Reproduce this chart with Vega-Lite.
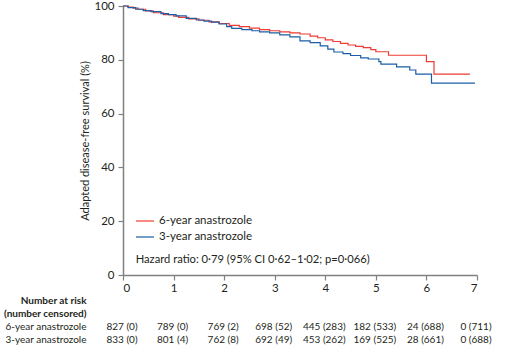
{
  "$schema": "https://vega.github.io/schema/vega-lite/v6.json",
  "padding": {"left": 3, "top": 0, "right": 0, "bottom": 0},
  "background": "white",
  "spacing": 0,
  "config": {
    "view": {"stroke": null},
    "font": "Lato",
    "text": {"font": "Lato"}
  },
  "datasets": {
    "km": [
      {"arm": "6-year anastrozole", "t": 0, "s": 100},
      {"arm": "6-year anastrozole", "t": 0.1, "s": 99.6},
      {"arm": "6-year anastrozole", "t": 0.2, "s": 99.2},
      {"arm": "6-year anastrozole", "t": 0.3, "s": 98.8},
      {"arm": "6-year anastrozole", "t": 0.45, "s": 98.2},
      {"arm": "6-year anastrozole", "t": 0.6, "s": 97.5},
      {"arm": "6-year anastrozole", "t": 0.8, "s": 96.8},
      {"arm": "6-year anastrozole", "t": 1.0, "s": 96.2},
      {"arm": "6-year anastrozole", "t": 1.1, "s": 95.8},
      {"arm": "6-year anastrozole", "t": 1.3, "s": 95.2},
      {"arm": "6-year anastrozole", "t": 1.5, "s": 94.7},
      {"arm": "6-year anastrozole", "t": 1.7, "s": 94.1},
      {"arm": "6-year anastrozole", "t": 1.9, "s": 93.5},
      {"arm": "6-year anastrozole", "t": 2.1, "s": 92.8},
      {"arm": "6-year anastrozole", "t": 2.3, "s": 92.3},
      {"arm": "6-year anastrozole", "t": 2.5, "s": 91.8},
      {"arm": "6-year anastrozole", "t": 2.7, "s": 91.2},
      {"arm": "6-year anastrozole", "t": 2.9, "s": 90.8},
      {"arm": "6-year anastrozole", "t": 3.1, "s": 90.4},
      {"arm": "6-year anastrozole", "t": 3.3, "s": 90.0},
      {"arm": "6-year anastrozole", "t": 3.5, "s": 89.6},
      {"arm": "6-year anastrozole", "t": 3.7, "s": 88.8},
      {"arm": "6-year anastrozole", "t": 3.85, "s": 88.2},
      {"arm": "6-year anastrozole", "t": 4.0, "s": 87.4},
      {"arm": "6-year anastrozole", "t": 4.15, "s": 86.8},
      {"arm": "6-year anastrozole", "t": 4.3, "s": 86.1},
      {"arm": "6-year anastrozole", "t": 4.45, "s": 85.5},
      {"arm": "6-year anastrozole", "t": 4.6, "s": 85.0},
      {"arm": "6-year anastrozole", "t": 4.75, "s": 84.5},
      {"arm": "6-year anastrozole", "t": 4.9, "s": 83.8},
      {"arm": "6-year anastrozole", "t": 5.0, "s": 83.0},
      {"arm": "6-year anastrozole", "t": 5.25, "s": 81.7},
      {"arm": "6-year anastrozole", "t": 6.0, "s": 79.3},
      {"arm": "6-year anastrozole", "t": 6.15, "s": 74.7},
      {"arm": "6-year anastrozole", "t": 6.86, "s": 74.7},
      {"arm": "3-year anastrozole", "t": 0, "s": 100},
      {"arm": "3-year anastrozole", "t": 0.1, "s": 99.4},
      {"arm": "3-year anastrozole", "t": 0.25, "s": 98.8},
      {"arm": "3-year anastrozole", "t": 0.4, "s": 98.3},
      {"arm": "3-year anastrozole", "t": 0.55, "s": 97.9},
      {"arm": "3-year anastrozole", "t": 0.75, "s": 97.2},
      {"arm": "3-year anastrozole", "t": 0.9, "s": 96.8},
      {"arm": "3-year anastrozole", "t": 1.05, "s": 96.3},
      {"arm": "3-year anastrozole", "t": 1.25, "s": 95.4},
      {"arm": "3-year anastrozole", "t": 1.45, "s": 94.8},
      {"arm": "3-year anastrozole", "t": 1.6, "s": 94.4},
      {"arm": "3-year anastrozole", "t": 1.75, "s": 94.0},
      {"arm": "3-year anastrozole", "t": 1.9, "s": 93.3},
      {"arm": "3-year anastrozole", "t": 2.05, "s": 92.3},
      {"arm": "3-year anastrozole", "t": 2.15, "s": 91.7},
      {"arm": "3-year anastrozole", "t": 2.35, "s": 91.2},
      {"arm": "3-year anastrozole", "t": 2.55, "s": 90.8},
      {"arm": "3-year anastrozole", "t": 2.7, "s": 90.4},
      {"arm": "3-year anastrozole", "t": 2.9, "s": 90.0},
      {"arm": "3-year anastrozole", "t": 3.1, "s": 89.3},
      {"arm": "3-year anastrozole", "t": 3.3, "s": 88.5},
      {"arm": "3-year anastrozole", "t": 3.5, "s": 87.0},
      {"arm": "3-year anastrozole", "t": 3.7, "s": 86.4},
      {"arm": "3-year anastrozole", "t": 3.9, "s": 85.2},
      {"arm": "3-year anastrozole", "t": 4.05, "s": 84.0},
      {"arm": "3-year anastrozole", "t": 4.17, "s": 82.9},
      {"arm": "3-year anastrozole", "t": 4.35, "s": 82.3},
      {"arm": "3-year anastrozole", "t": 4.5, "s": 81.6},
      {"arm": "3-year anastrozole", "t": 4.7, "s": 80.7},
      {"arm": "3-year anastrozole", "t": 4.85, "s": 80.3},
      {"arm": "3-year anastrozole", "t": 5.06, "s": 79.3},
      {"arm": "3-year anastrozole", "t": 5.1, "s": 78.4},
      {"arm": "3-year anastrozole", "t": 5.41, "s": 77.4},
      {"arm": "3-year anastrozole", "t": 5.67, "s": 76.2},
      {"arm": "3-year anastrozole", "t": 5.79, "s": 74.7},
      {"arm": "3-year anastrozole", "t": 6.1, "s": 71.3},
      {"arm": "3-year anastrozole", "t": 6.96, "s": 71.3}
    ],
    "risk": [
      {"row": "6-year anastrozole", "t": 0, "label": "827 (0)"},
      {"row": "6-year anastrozole", "t": 1, "label": "789 (0)"},
      {"row": "6-year anastrozole", "t": 2, "label": "769 (2)"},
      {"row": "6-year anastrozole", "t": 3, "label": "698 (52)"},
      {"row": "6-year anastrozole", "t": 4, "label": "445 (283)"},
      {"row": "6-year anastrozole", "t": 5, "label": "182 (533)"},
      {"row": "6-year anastrozole", "t": 6, "label": "24 (688)"},
      {"row": "6-year anastrozole", "t": 7, "label": "0 (711)"},
      {"row": "3-year anastrozole", "t": 0, "label": "833 (0)"},
      {"row": "3-year anastrozole", "t": 1, "label": "801 (4)"},
      {"row": "3-year anastrozole", "t": 2, "label": "762 (8)"},
      {"row": "3-year anastrozole", "t": 3, "label": "692 (49)"},
      {"row": "3-year anastrozole", "t": 4, "label": "453 (262)"},
      {"row": "3-year anastrozole", "t": 5, "label": "169 (525)"},
      {"row": "3-year anastrozole", "t": 6, "label": "28 (661)"},
      {"row": "3-year anastrozole", "t": 7, "label": "0 (688)"}
    ]
  },
  "vconcat": [
    {
      "width": 354,
      "height": 269,
      "layer": [
        {
          "data": {"name": "km"},
          "mark": {"type": "line", "interpolate": "step-after", "strokeWidth": 1.2},
          "encoding": {
            "x": {
              "field": "t", "type": "quantitative",
              "scale": {"domain": [0, 7], "nice": false},
              "axis": {"values": [0, 1, 2, 3, 4, 5, 6, 7], "title": null, "grid": false,
                "domainColor": "#808080", "domainWidth": 1.5, "tickColor": "#808080", "tickWidth": 1.2,
                "tickSize": 5, "labelPadding": 2, "labelFontSize": 11.5, "labelColor": "#231f20", "labelFont": "Lato"}
            },
            "y": {
              "field": "s", "type": "quantitative",
              "scale": {"domain": [0, 100], "nice": false},
              "axis": {"values": [0, 20, 40, 60, 80, 100], "title": "Adapted disease-free survival (%)", "grid": false,
                "domainColor": "#808080", "domainWidth": 1.5, "tickColor": "#808080", "tickWidth": 1.2,
                "tickSize": 5, "labelPadding": 4, "labelFontSize": 11.5, "labelColor": "#231f20", "labelFont": "Lato",
                "titleFont": "Lato", "titleFontSize": 11, "titleFontWeight": "normal", "titleColor": "#231f20", "titlePadding": 3}
            },
            "color": {
              "field": "arm", "type": "nominal",
              "scale": {"domain": ["6-year anastrozole", "3-year anastrozole"], "range": ["#ee3b33", "#1b5ea8"]},
              "legend": {"orient": "none", "legendX": 12, "legendY": 205, "title": null, "symbolType": "stroke",
                "symbolSize": 324, "symbolStrokeWidth": 1.2, "labelFontSize": 11.5, "labelFont": "Lato", "labelColor": "#231f20",
                "rowPadding": -4, "padding": 0, "labelOffset": 4}
            }
          }
        },
        {
          "data": {"values": [{}]},
          "mark": {"type": "text", "align": "left", "baseline": "middle", "fontSize": 11.2, "font": "Lato", "color": "#231f20"},
          "encoding": {
            "x": {"datum": 0.25, "type": "quantitative"},
            "y": {"datum": 5.6, "type": "quantitative"},
            "text": {"value": "Hazard ratio: 0·79 (95% CI 0·62–1·02; p=0·066)"}
          }
        }
      ]
    },
    {
      "width": 354,
      "height": 52,
      "data": {"name": "risk"},
      "mark": {"type": "text", "fontSize": 10, "font": "Lato", "color": "#231f20", "dx": -1},
      "encoding": {
        "x": {"field": "t", "type": "quantitative", "scale": {"domain": [0, 7], "nice": false}, "axis": null},
        "y": {
          "field": "row", "type": "nominal",
          "scale": {"domain": ["Number at risk", "(number censored)", "6-year anastrozole", "3-year anastrozole"]},
          "axis": {"title": null, "ticks": false, "domain": false, "labelPadding": 37, "labelFontSize": 10, "labelFont": "Lato",
            "labelColor": "#231f20",
            "labelFontWeight": {"condition": {"test": "datum.value === 'Number at risk' || datum.value === '(number censored)'", "value": "bold"}, "value": "normal"}}
        },
        "text": {"field": "label"}
      }
    }
  ]
}
